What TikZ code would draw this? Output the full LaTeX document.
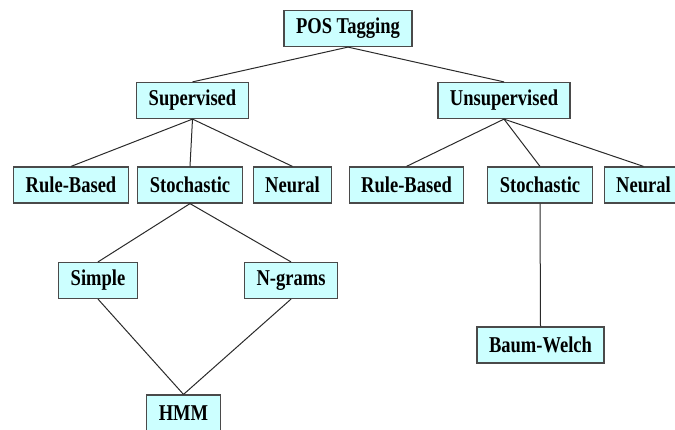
\documentclass[tikz,border=0pt]{standalone}
\usepackage{fontspec}
\setmainfont[FakeStretch=0.82]{Liberation Serif}
\usepackage{tikz}
\usetikzlibrary{positioning}
\usepackage{xcolor}
\definecolor{boxfill}{HTML}{CCFFFF}
\definecolor{boxline}{HTML}{4A4A4A}
\definecolor{edgeline}{HTML}{2A2A2A}

\begin{document}
\begin{tikzpicture}[x=1pt, y=-1pt,
  every node/.style = {shape=rectangle, draw=boxline, line width=1.2pt,
    align=center, fill=boxfill, minimum height=36pt, inner xsep=12pt,
    font=\fontsize{22.6}{26}\selectfont\bfseries},
    link/.style={draw=edgeline, line width=1pt}
    ]
  \useasboundingbox (0,0) rectangle (675,429);
  \node (pos) at (348,28.5) {POS Tagging};
  \node (sup) at (192.5,100.5) {Supervised};
  \node (unsup) at (504,100.5) {Unsupervised};
  % supervised side
  \node (ruleL) at (71,185) {Rule-Based};
  \node (stochL) at (190,185) {Stochastic};
  \node (neuralL) at (292.5,185) {Neural};
  \node (simple) at (98,280.5) {Simple};
  \node (ngrams) at (291,280.5) {N-grams};
  \node (hmm) at (183.5,413) {HMM};
  % unsupervised side
  \node (ruleR) at (406.5,185) {Rule-Based};
  \node (stochR) at (540,185) {Stochastic};
  \node (neuralR) at (643.5,185) {Neural};
  \node (baum) at (540.5,345) {Baum-Welch};

  \draw[link] (pos.south) -- (sup.north);
  \draw[link] (pos.south) -- (unsup.north);
  \draw[link] (sup.south) -- (ruleL.north);
  \draw[link] (sup.south) -- (stochL.north);
  \draw[link] (sup.south) -- (neuralL.north);
  \draw[link] (stochL.south) -- (simple.north);
  \draw[link] (stochL.south) -- (ngrams.north);
  \draw[link] (simple.south) -- (hmm.north);
  \draw[link] (ngrams.south) -- (hmm.north);
  \draw[link] (unsup.south) -- (ruleR.north);
  \draw[link] (unsup.south) -- (stochR.north);
  \draw[link] (unsup.south) -- (neuralR.north);
  \draw[link] (stochR.south) -- (baum.north);
\end{tikzpicture}
\end{document}
